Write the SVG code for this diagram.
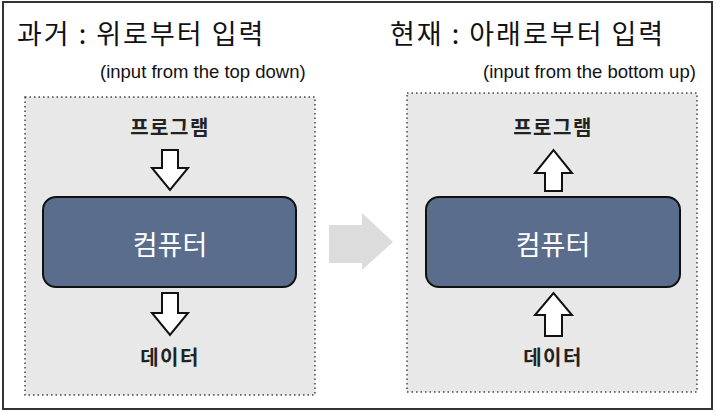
<svg xmlns="http://www.w3.org/2000/svg" width="716" height="412" viewBox="0 0 716 412">
<style>
.title{font-family:"Noto Sans CJK KR","Noto Sans",sans-serif;font-size:27px;letter-spacing:2px;fill:#111}
.sub{font-family:"Liberation Sans",Arial,sans-serif;font-size:18.5px;fill:#111}
.panel{fill:#e8e8e8;stroke:#444;stroke-width:1.5;stroke-dasharray:1.5 3}
.comp{fill:#5a6d8c;stroke:#111;stroke-width:2}
.ctext{font-family:"Noto Sans CJK KR",sans-serif;font-size:27px;fill:#fff;text-anchor:middle}
.lbl{font-family:"Noto Sans CJK KR",sans-serif;font-size:20px;font-weight:bold;letter-spacing:1.5px;fill:#222;text-anchor:middle}
.arr{fill:#fff;stroke:#111;stroke-width:2;stroke-linejoin:miter}
</style>
<rect x="0" y="0" width="716" height="412" fill="#fff"/>
<rect x="3" y="2" width="709" height="407" fill="none" stroke="#333" stroke-width="2"/>
<g id="title-left"><text class="title" x="17" y="44">과거 : 위로부터 입력</text>
<text class="sub" x="100" y="78">(input from the top down)</text></g>
<g id="title-right"><text class="title" x="390" y="44">현재 : 아래로부터 입력</text>
<text class="sub" x="483" y="78">(input from the bottom up)</text></g>
<g id="panel-left"><rect class="panel" x="25" y="97" width="290" height="298"/></g>
<g id="panel-right"><rect class="panel" x="407" y="93" width="290" height="299"/></g>
<g id="program-left"><text class="lbl" x="170" y="135">프로그램</text></g>
<g id="computer-left"><rect class="comp" x="43" y="197" width="253" height="90" rx="13"/><text class="ctext" x="170" y="255">컴퓨터</text></g>
<g id="data-left"><text class="lbl" x="170" y="365">데이터</text></g>
<g id="program-right"><text class="lbl" x="553" y="135">프로그램</text></g>
<g id="computer-right"><rect class="comp" x="426" y="197" width="254" height="90" rx="13"/><text class="ctext" x="553" y="255">컴퓨터</text></g>
<g id="data-right"><text class="lbl" x="553" y="365">데이터</text></g>
<g id="connectors">
<polygon class="arr" points="162,150 178,150 178,168 188,168 170,190 152,168 162,168"/>
<polygon class="arr" points="162,293 178,293 178,313 188,313 170,335 152,313 162,313"/>
<polygon class="arr" points="545,191 562,191 562,173 572,173 553.5,150 535,173 545,173"/>
<polygon class="arr" points="545,336 562,336 562,315 572,315 553.5,293 535,315 545,315"/>
<polygon fill="#dcdcdc" points="329,225 362,225 362,213 393,242 362,270 362,263 329,263"/>
</g>
</svg>
